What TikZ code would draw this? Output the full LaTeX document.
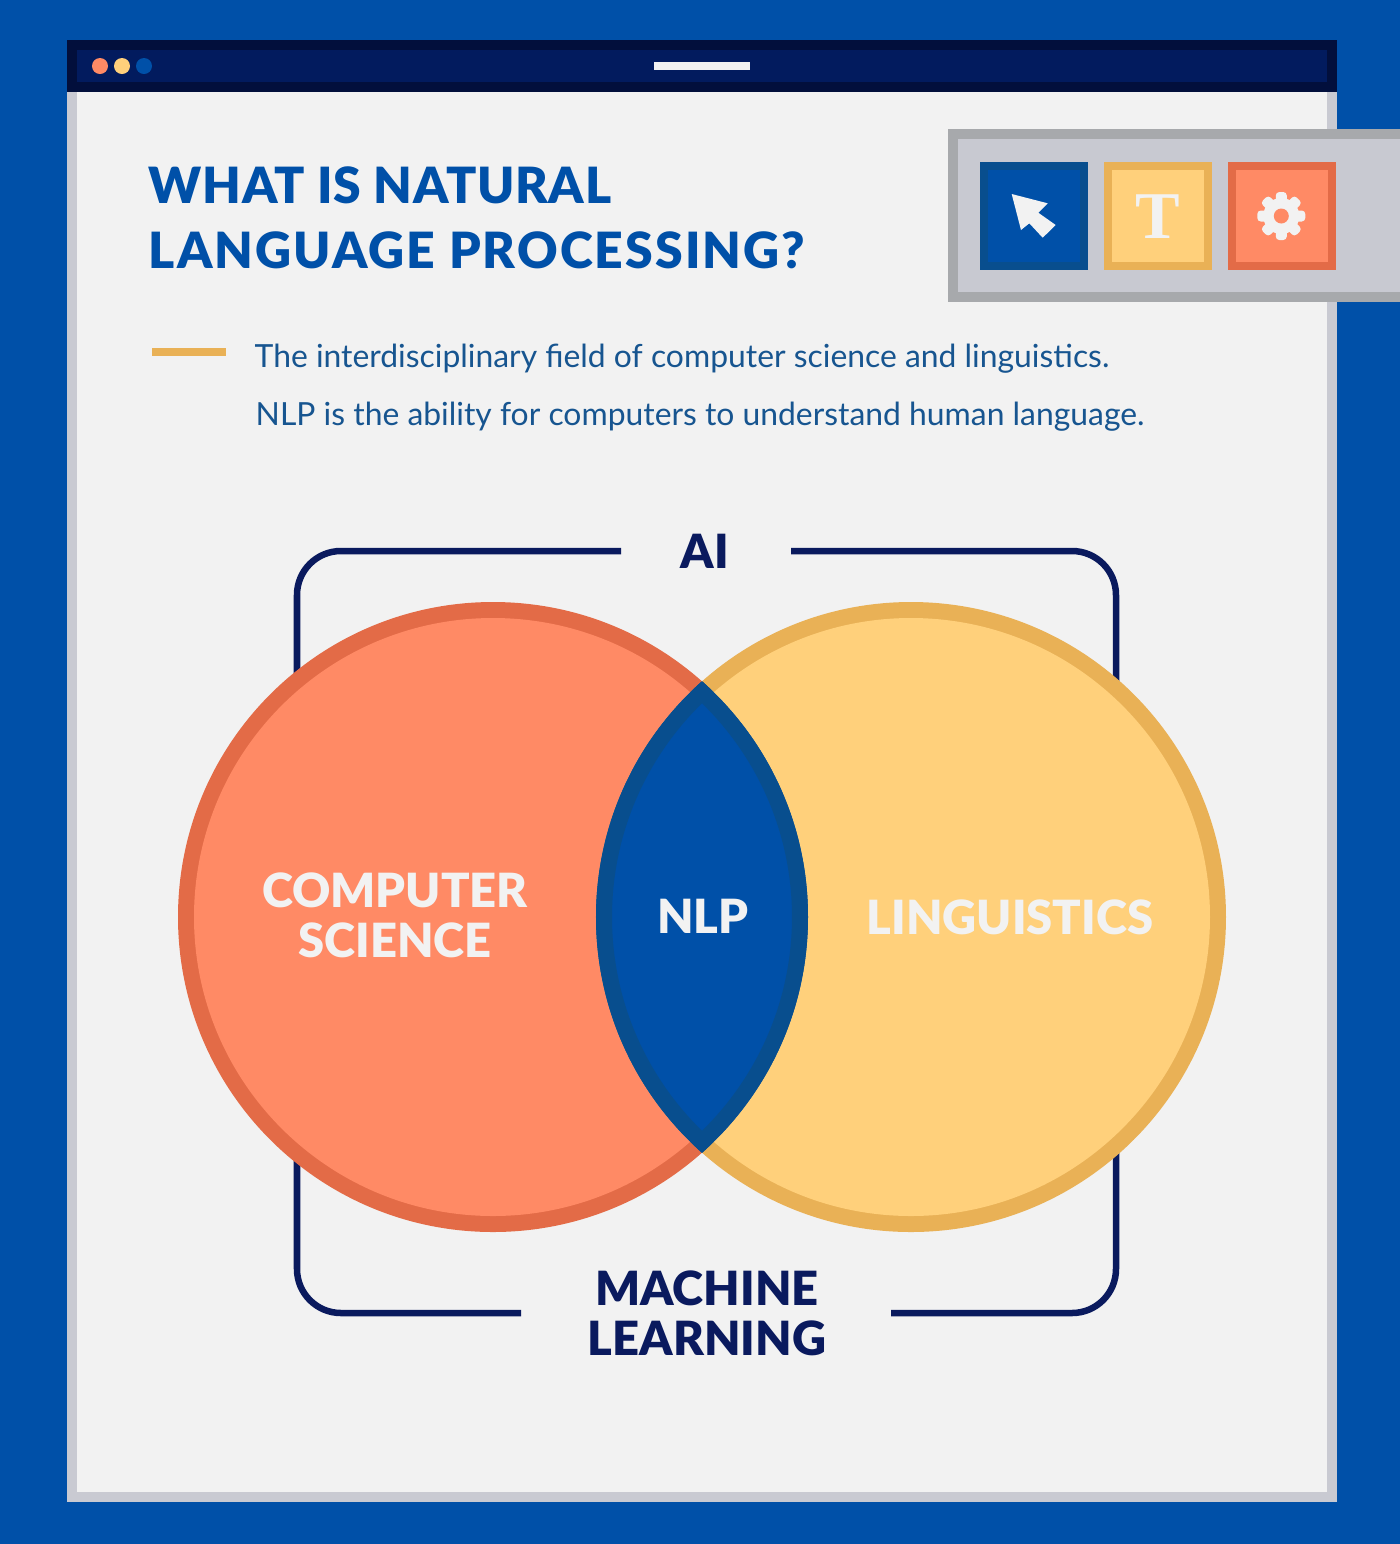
\documentclass[tikz,border=0pt]{standalone}
\usepackage{fontspec}
\setmainfont{Lato}
\newfontfamily\headfont{Lato Black}
\newfontfamily\bodyfont{Lato}
\newfontfamily\serifmark{Liberation Serif}
\definecolor{pageblue}{HTML}{0050A8}
\definecolor{navyline}{HTML}{0A1A5E}
\definecolor{barnavy}{HTML}{021B5E}
\definecolor{bardark}{HTML}{020F3C}
\definecolor{paper}{HTML}{F2F2F2}
\definecolor{paperedge}{HTML}{C9CAD2}
\definecolor{toolfill}{HTML}{C8C9D1}
\definecolor{tooledge}{HTML}{A7A9AC}
\definecolor{coral}{HTML}{FF8A65}
\definecolor{coraledge}{HTML}{E36B47}
\definecolor{sand}{HTML}{FFD07B}
\definecolor{sandedge}{HTML}{E9B156}
\definecolor{lensedge}{HTML}{084E8E}
\definecolor{bodyblue}{HTML}{175590}
\newcommand{\pxu}{*0.2845pt}
\tikzset{
  titletext/.style={anchor=west, inner sep=0pt, text=pageblue, font=\headfont\fontsize{14.2}{14.2}\selectfont},
  headtext/.style={inner sep=0pt, align=center, font=\headfont\fontsize{13.4}{14.2}\selectfont},
  bodytext/.style={anchor=west, inner sep=0pt, text=bodyblue, font=\bodyfont\fontsize{9.06}{10}\selectfont},
}
\begin{document}
\begin{tikzpicture}[x=0.01cm,y=-0.01cm]
\useasboundingbox (0,0) rectangle (1400,1544);

% Marking the page background
\fill [pageblue] (0,0) rectangle (1400,1544);

% Drawing the window
\fill [paperedge] (67,60) rectangle (1337,1502);
\fill [paper] (77,90) rectangle (1327,1492);

% Drawing the title bar
\fill [bardark] (67,40) rectangle (1337,92);
\fill [barnavy] (77,50) rectangle (1327,82);
\fill [coral] (100,66) circle (8);
\fill [sand] (122,66) circle (8);
\fill [pageblue] (144,66) circle (8);
\fill [paper] (654,62) rectangle (750,70);

% Drawing the toolbar
\fill [tooledge] (948,129) rectangle (1400,302);
\fill [toolfill] (958,139) rectangle (1400,292);

% Drawing tool buttons
\fill [lensedge] (980,162) rectangle (1088,270);
\fill [pageblue] (988,170) rectangle (1080,262);
\fill [sandedge] (1104,162) rectangle (1212,270);
\fill [sand] (1112,170) rectangle (1204,262);
\fill [coraledge] (1228,162) rectangle (1336,270);
\fill [coral] (1236,170) rectangle (1328,262);

% Marking the pointer
\fill [paper] (1011.7,194) -- (1047.7,203.3) -- (1038.3,212.7) -- (1055.7,225)
  -- (1042.7,237.7) -- (1029.3,223.3) -- (1021,230) -- cycle;

% Marking the letter
\node (toolT) at (1158,217) [inner sep=0pt, text=paper, font=\serifmark\bfseries\fontsize{19}{19}\selectfont] {T};

% Marking the gear
\fill [paper] (1281.3,216) circle (18);
\foreach \ang in {0,45,...,315} {
  \fill [paper, rotate around={\ang:(1281.3,216)}, rounded corners=1] (1275.8,192) rectangle (1286.8,205);
}
\fill [coral] (1281.3,216) circle (7.5);

% Marking the heading
\node (titleA) at (148,185) [titletext] {\addfontfeature{LetterSpace=1.5}WHAT IS NATURAL};
\node (titleB) at (148,250) [titletext] {\addfontfeature{LetterSpace=4.2}LANGUAGE PROCESSING?};

% Marking the description
\fill [sandedge] (152,348) rectangle (226,356);
\node (descA) at (254,359) [bodytext] {The interdisciplinary field of computer science and linguistics.};
\node (descB) at (255,417) [bodytext] {NLP is the ability for computers to understand human language.};

% Drawing bracket
\draw [navyline, line width=6.5\pxu, rounded corners=12.5pt] (621,551) -- (297,551) -- (297,1313) -- (521,1313);
\draw [navyline, line width=6.5\pxu, rounded corners=12.5pt] (791,551) -- (1116,551) -- (1116,1313) -- (891,1313);

% Marking AI and machine learning
\node (labAI) at (705,551) [headtext, text=navyline] {AI};
\node (labML) at (707,1313) [headtext, text=navyline] {MACHINE\\LEARNING};

% Drawing circle A
\fill [coraledge] (493,917) circle (315);
\fill [coral] (493,917) circle (299);

% Drawing circle B
\fill [sandedge] (911,917) circle (315);
\fill [sand] (911,917) circle (299);

% Drawing the overlap
\begin{scope}
  \clip (493,917) circle (315);
  \fill [pageblue] (911,917) circle (315);
  \draw [lensedge, line width=16\pxu] (911,917) circle (307);
\end{scope}
\begin{scope}
  \clip (911,917) circle (315);
  \draw [lensedge, line width=16\pxu] (493,917) circle (307);
\end{scope}

% Marking circle labels
\node (labCS) at (395,915) [headtext, text=paper] {COMPUTER\\SCIENCE};
\node (labNLP) at (703,916) [headtext, text=paper] {NLP};
\node (labLI) at (1010,917) [headtext, text=paper] {LINGUISTICS};
\end{tikzpicture}
\end{document}
